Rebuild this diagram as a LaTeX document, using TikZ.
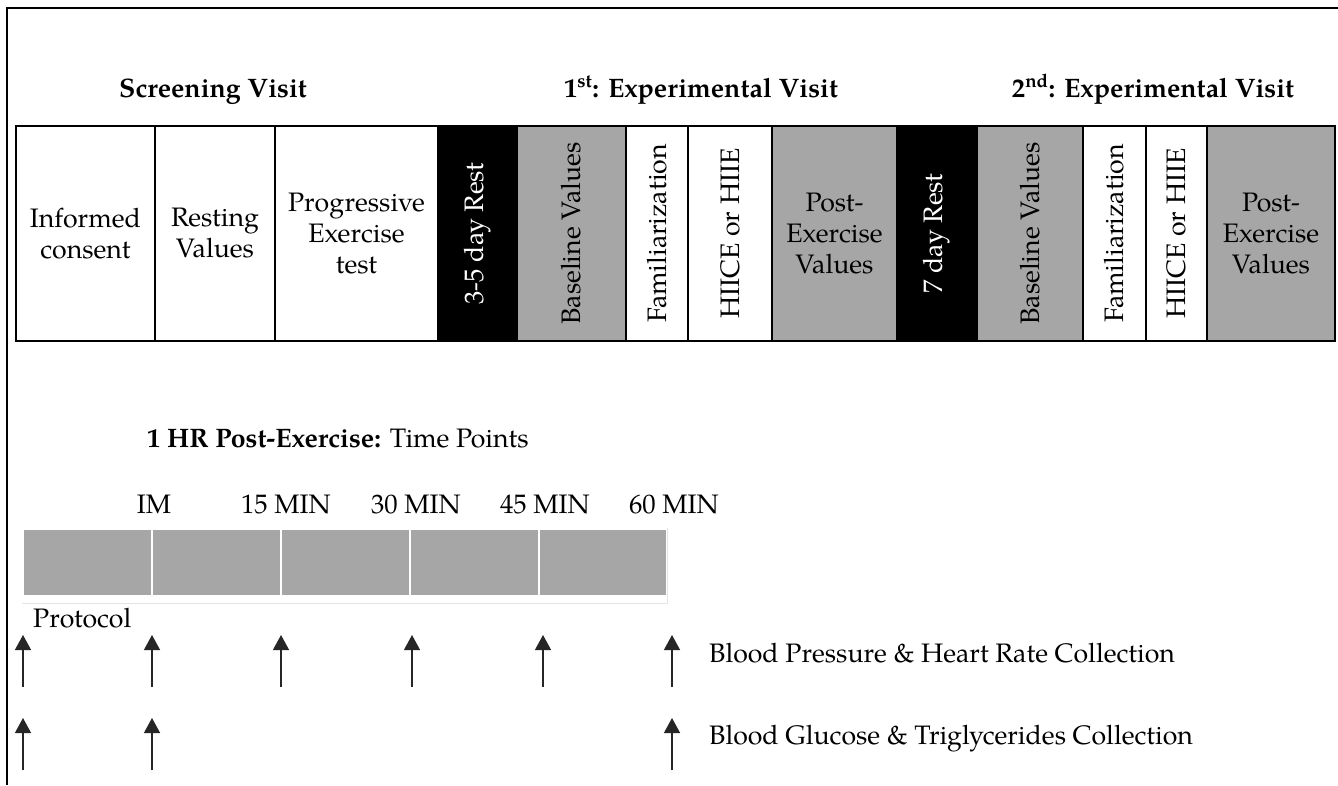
\documentclass[tikz,border=0pt]{standalone}
\usepackage{fontspec}
\setmainfont{TeX Gyre Pagella}
\usetikzlibrary{arrows.meta}
\definecolor{cellgray}{HTML}{A6A6A6}
\definecolor{faint}{HTML}{E4E4E4}
\newcommand\mainsize{\fontsize{26.7}{31}\selectfont}
\tikzset{
  cell/.style={draw=black, line width=2pt, minimum height=215pt, inner sep=0pt, outer sep=0pt,
    align=center, font=\mainsize, text=black},
  rot/.style={rotate=90, font=\mainsize, inner sep=0pt},
  hdr/.style={font=\bfseries\mainsize, anchor=base, inner sep=0pt},
  txt/.style={font=\mainsize, inner sep=0pt},
  slot/.style={fill=cellgray, inner sep=0pt, minimum height=65pt},
  up/.style={-{Triangle[width=16pt,length=15pt]}, line width=1.3pt, draw=black!85},
}
\begin{document}
\begin{tikzpicture}[x=1pt,y=-1pt]
\useasboundingbox (0,0) rectangle (1338,785);
\fill[white] (0,0) rectangle (1338,785);
% outer frame
\draw[line width=2pt] (7,785) -- (7,7.5) -- (1338,7.5);

% headers
\node[hdr] (h1) at (213,97) {Screening Visit};
\node[hdr] (h2) at (701,97) {1\textsuperscript{st}: Experimental Visit};
\node[hdr] (h3) at (1153,97) {2\textsuperscript{nd}: Experimental Visit};

% table cells
\node[cell, minimum width=139pt] (c1) at (85.5,233.5) {Informed\\consent};
\node[cell, minimum width=120pt] (c2) at (215,233.5) {Resting\\Values};
\node[cell, minimum width=163pt] (c3) at (356.5,233.5) {Progressive\\Exercise\\test};
\node[cell, minimum width=79pt, fill=black] (c4) at (477.5,233.5) {};
\node[cell, minimum width=109pt, fill=cellgray] (c5) at (571.5,233.5) {};
\node[cell, minimum width=62pt] (c6) at (657,233.5) {};
\node[cell, minimum width=84pt] (c7) at (730,233.5) {};
\node[cell, minimum width=125pt, fill=cellgray] (c8) at (834.5,233.5) {Post-\\Exercise\\Values};
\node[cell, minimum width=80pt, fill=black] (c9) at (937,233.5) {};
\node[cell, minimum width=106pt, fill=cellgray] (c10) at (1030,233.5) {};
\node[cell, minimum width=63pt] (c11) at (1114.5,233.5) {};
\node[cell, minimum width=61pt] (c12) at (1176.5,233.5) {};
\node[cell, minimum width=128pt, fill=cellgray] (c13) at (1271,233.5) {Post-\\Exercise\\Values};

% rotated labels
\node[rot, text=white] (t4) at (c4) {3-5 day Rest};
\node[rot] (t5) at (c5) {Baseline Values};
\node[rot] (t6) at (c6) {Familiarization};
\node[rot] (t7) at (c7) {HIICE or HIIE};
\node[rot, text=white] (t9) at (c9) {7 day Rest};
\node[rot] (t10) at (c10) {Baseline Values};
\node[rot] (t11) at (c11) {Familiarization};
\node[rot] (t12) at (c12) {HIICE or HIIE};

% time points
\node[txt, anchor=base west] (tp) at (147,447) {\textbf{1 HR Post-Exercise:} Time Points};
\node[txt, anchor=base] (l1) at (154,513) {IM};
\node[txt, anchor=base] (l2) at (286,513) {15 MIN};
\node[txt, anchor=base] (l3) at (416,513) {30 MIN};
\node[txt, anchor=base] (l4) at (545,513) {45 MIN};
\node[txt, anchor=base] (l5) at (674,513) {60 MIN};

\node[slot, minimum width=127pt] (s1) at (87.5,562.5) {};
\node[slot, minimum width=127pt] (s2) at (216.5,562.5) {};
\node[slot, minimum width=127pt] (s3) at (345.5,562.5) {};
\node[slot, minimum width=127pt] (s4) at (474.5,562.5) {};
\node[slot, minimum width=126pt] (s5) at (603,562.5) {};
\draw[faint, line width=1pt] (22,603) -- (667,603) -- (667,528);

\node[txt, anchor=base west] (proto) at (33,627) {Protocol};

% arrows
\foreach \i/\x in {1/23,2/152,3/281,4/412,5/543,6/672}{
  \coordinate (pb\i) at (\x,687);
  \coordinate (pt\i) at (\x,635);
  \draw[up] (pb\i) -- (pt\i);
}
\foreach \i/\x in {1/23,2/152,3/672}{
  \coordinate (gb\i) at (\x,770);
  \coordinate (gt\i) at (\x,718);
  \draw[up] (gb\i) -- (gt\i);
}
\node[txt, anchor=base west] (bp) at (709,662) {Blood Pressure \& Heart Rate Collection};
\node[txt, anchor=base west] (bg) at (709,744) {Blood Glucose \& Triglycerides Collection};
\end{tikzpicture}
\end{document}
